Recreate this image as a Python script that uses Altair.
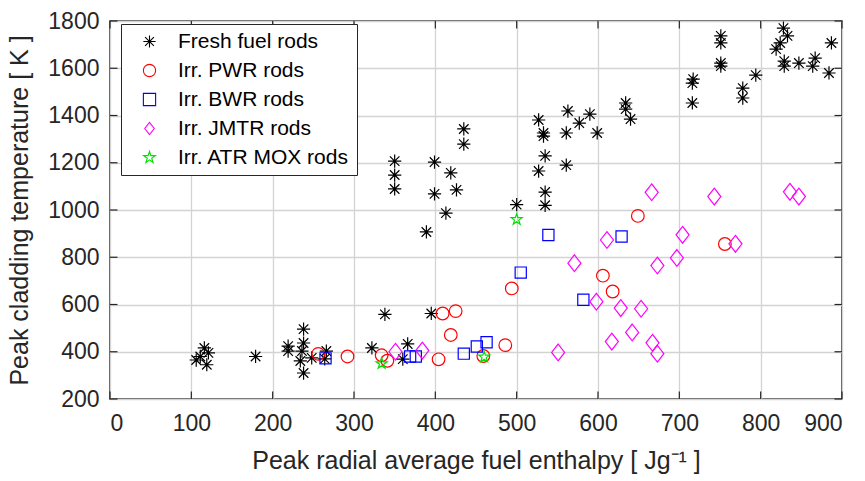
import altair as alt
import pandas as pd

# ---------------- data ----------------
fresh_x = [106, 111, 116, 121, 119, 179,
           219, 219, 238, 238, 236, 234, 238, 248, 266, 264,
           322, 338, 366, 360,
           350, 350, 350, 399, 399, 419, 426, 413, 389, 435, 435, 395,
           500, 527, 533, 533, 535, 527, 535, 535,
           563, 577, 590, 561, 599, 561,
           634, 634, 640, 716, 717, 716,
           751, 751, 751, 751, 778, 778, 794,
           828, 833, 824, 819, 829, 829, 847, 867, 864, 884, 887]
fresh_y = [365, 380, 416, 395, 345, 380,
           424, 403, 496, 437, 403, 361, 310, 374, 403, 370,
           416, 558, 433, 369,
           1207, 1148, 1089, 1203, 1068, 1157, 1085, 987, 907, 1343, 1279, 562,
           1023, 1381, 1326, 1313, 1229, 1165, 1076, 1020,
           1419, 1368, 1406, 1326, 1326, 1190,
           1453, 1427, 1385, 1537, 1554, 1453,
           1737, 1707, 1622, 1609, 1516, 1474, 1571,
           1770, 1737, 1707, 1681, 1630, 1609, 1622, 1643, 1609, 1580, 1707]

pwr_x = [256, 292, 334, 341, 409, 425, 419, 404, 459, 486, 494, 606, 618, 649, 756]
pwr_y = [391, 380, 385, 362, 562, 572, 471, 368, 382, 428, 668, 722, 655, 975, 856]

bwr_x = [265, 369, 376, 435, 451, 463, 505, 539, 582, 629]
bwr_y = [372, 380, 380, 392, 422, 440, 735, 894, 620, 888]

jmtr_x = [351, 384, 551, 571, 598, 611, 617, 628, 642, 653,
          667, 673, 666, 673, 697, 704, 743, 769, 836, 847]
jmtr_y = [400, 405, 397, 775, 612, 873, 443, 585, 482, 582,
          438, 392, 1075, 765, 797, 895, 1057, 857, 1077, 1057]

atr_x = [334, 460, 500]
atr_y = [350, 378, 960]

series_names = ["Fresh fuel rods", "Irr. PWR rods", "Irr. BWR rods",
                "Irr. JMTR rods", "Irr. ATR MOX rods"]
series_colors = ["#000000", "#ff0000", "#0000ff", "#ff00ff", "#00e000"]

x_ticks = [0, 100, 200, 300, 400, 500, 600, 700, 800, 900]
y_ticks = [200, 400, 600, 800, 1000, 1200, 1400, 1600, 1800]

# ---------------- marker styling ----------------
asterisk = "M-1,0L1,0M0,-1L0,1M-0.72,-0.72L0.72,0.72M-0.72,0.72L0.72,-0.72"
diamond = "M0,-1L0.78,0L0,1L-0.78,0Z"
star = ("M0,-1L0.2233,-0.3074L0.9511,-0.309L0.3614,0.1174L0.5878,0.809"
        "L0,0.38L-0.5878,0.809L-0.3614,0.1174L-0.9511,-0.309L-0.2233,-0.3074Z")
shapes = [asterisk, "circle", "square", diamond, star]
marker_area = [175, 160, 125, 280, 135]

rows = []
for name, area, xs, ys in zip(series_names, marker_area,
                              [fresh_x, pwr_x, bwr_x, jmtr_x, atr_x],
                              [fresh_y, pwr_y, bwr_y, jmtr_y, atr_y]):
    for a, b in zip(xs, ys):
        rows.append({"series": name, "enthalpy": a, "temp": b, "sz": area})
df = pd.DataFrame(rows)
df["idx"] = range(len(df))

W, H = 732, 378
TXT = "#262626"
FONT = "Liberation Sans"

xscale = alt.Scale(domain=[0, 900], nice=False, zero=False)
yscale = alt.Scale(domain=[200, 1800], nice=False, zero=False)

points = alt.Chart(df).mark_point(filled=False, strokeWidth=1.2, opacity=1).encode(
    x=alt.X("enthalpy:Q", scale=xscale,
            axis=alt.Axis(values=x_ticks, format="d",
                          title="Peak radial average fuel enthalpy [ Jg⁻¹ ]",
                          grid=True, ticks=False, domain=False,
                          labelPadding=13, titlePadding=13)),
    y=alt.Y("temp:Q", scale=yscale,
            axis=alt.Axis(values=y_ticks, format="d",
                          title="Peak cladding temperature [ K ]",
                          grid=True, ticks=False, domain=False,
                          labelPadding=11, titlePadding=15)),
    color=alt.Color("series:N", scale=alt.Scale(domain=series_names, range=series_colors),
                    legend=alt.Legend(title=None, orient="none", legendX=11, legendY=3)),
    shape=alt.Shape("series:N", scale=alt.Scale(domain=series_names, range=shapes)),
    size=alt.Size("sz:Q", scale=None, legend=None),
    order=alt.Order("idx:Q"),
)

xt = pd.DataFrame({"v": x_ticks})
yt = pd.DataFrame({"v": y_ticks})
TL = 7.5
tick_style = dict(color=TXT, strokeWidth=1.2)
xb = alt.Chart(xt).mark_rule(**tick_style).encode(
    x=alt.X("v:Q", scale=xscale), y=alt.value(H), y2=alt.value(H - TL))
xtop = alt.Chart(xt).mark_rule(**tick_style).encode(
    x=alt.X("v:Q", scale=xscale), y=alt.value(0), y2=alt.value(TL))
yl = alt.Chart(yt).mark_rule(**tick_style).encode(
    y=alt.Y("v:Q", scale=yscale), x=alt.value(0), x2=alt.value(TL))
yr = alt.Chart(yt).mark_rule(**tick_style).encode(
    y=alt.Y("v:Q", scale=yscale), x=alt.value(W), x2=alt.value(W - TL))

chart = alt.layer(points, xb, xtop, yl, yr).properties(
    width=W, height=H,
    padding={"left": 110, "top": 21, "right": 23, "bottom": 82},
    autosize=alt.AutoSizeParams(type="none"),
    background="white",
).configure_view(
    stroke=TXT, strokeWidth=1.5
).configure_axis(
    labelFont=FONT, titleFont=FONT, labelFontSize=23, titleFontSize=25,
    labelColor=TXT, titleColor=TXT, titleFontWeight="normal",
    gridColor="#d3d3d3", gridWidth=1.3,
).configure_legend(
    labelFont=FONT, labelFontSize=21, labelColor="#000000", labelLimit=400,
    strokeColor=TXT, fillColor="white", padding=7,
    symbolOffset=11, labelOffset=18, rowPadding=7,
    symbolSize=150, symbolStrokeWidth=1.1, symbolFillColor="transparent",
    cornerRadius=0,
)

chart.save("out.html", embed_options={"renderer": "svg", "actions": False})
